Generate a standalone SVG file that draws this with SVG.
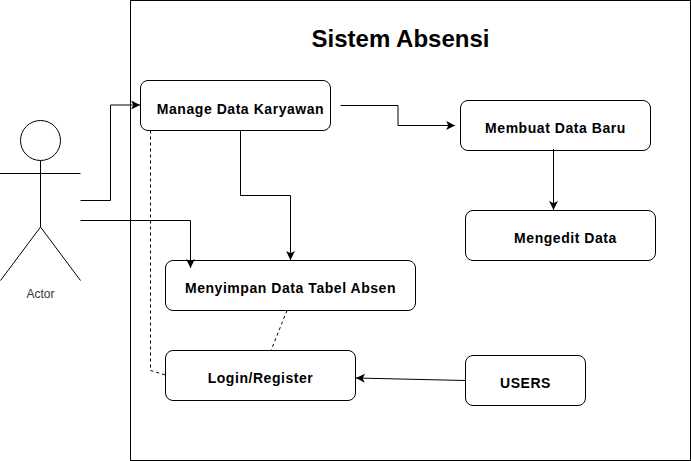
<svg xmlns="http://www.w3.org/2000/svg" width="691" height="461" viewBox="0 0 691 461">
<style>
.n{fill:#fff;stroke:#000;stroke-width:1}
.l{font:bold 14px "Liberation Sans",Arial,sans-serif;fill:#000;text-anchor:middle;letter-spacing:.55px}
.c{fill:none;stroke:#000;stroke-width:1}
.d{stroke-dasharray:3 3}
.a{fill:none;stroke:#000;stroke-width:1}
</style>
<defs>
<marker id="h" markerUnits="userSpaceOnUse" markerWidth="10" markerHeight="10" refX="8" refY="4" orient="auto" viewBox="0 0 9 8"><path d="M0 0L8 4L0 8L2 4Z" fill="#000"/></marker>
</defs>
<rect width="691" height="461" fill="#fff"/>
<g id="system"><rect x="130.500" y="0.500" width="560" height="460" fill="#fff" stroke="#000"/>
<text x="400.500" y="47" text-anchor="middle" style="font:bold 24px 'Liberation Sans',Arial,sans-serif">Sistem Absensi</text></g>
<g id="actor">
<circle cx="40.500" cy="140.500" r="20" class="a"/>
<path class="a" d="M40.500 160.500V227M0 173.500H80.500M0.500 280.500L40.500 227L80.500 280.500"/>
<text x="40.500" y="298" text-anchor="middle" style="font:12px 'Liberation Sans',Arial,sans-serif;fill:#333">Actor</text>
</g>
<g id="manage"><rect class="n" x="140.500" y="80.500" width="190" height="50" rx="7.500"/><text class="l" x="240.500" y="114">Manage Data Karyawan</text></g>
<g id="baru"><rect class="n" x="460.500" y="100.500" width="190" height="50" rx="7.500"/><text class="l" x="555.500" y="133">Membuat Data Baru</text></g>
<g id="edit"><rect class="n" x="465.500" y="210.500" width="190" height="50" rx="7.500"/><text class="l" x="565.500" y="243">Mengedit Data</text></g>
<g id="simpan"><rect class="n" x="165.500" y="260.500" width="250" height="50" rx="7.500"/><text class="l" x="290.500" y="293">Menyimpan Data Tabel Absen</text></g>
<g id="login"><rect class="n" x="165.500" y="350.500" width="190" height="50" rx="7.500"/><text class="l" x="260.500" y="383">Login/Register</text></g>
<g id="users"><rect class="n" x="465.500" y="355.500" width="120" height="50" rx="7.500"/><text class="l" x="525.500" y="388">USERS</text></g>
<g id="connectors">
<path class="c" marker-end="url(#h)" d="M80.500 200.500H110.500V105H140"/>
<path class="c" marker-end="url(#h)" d="M80.500 220.500H190.500V268"/>
<path class="c" marker-end="url(#h)" d="M240.500 130.500V195.500H290.500V260"/>
<path class="c" marker-end="url(#h)" d="M340.500 105.500H398V125.500H455"/>
<path class="c" marker-end="url(#h)" d="M553.500 149V210"/>
<path class="c" marker-end="url(#h)" d="M465.500 380.500L356 378"/>
<path class="c d" d="M150.500 130.500V370.500L165.500 375"/>
<path class="c d" d="M287 310.500L271 350.500"/>
</g>
</svg>
